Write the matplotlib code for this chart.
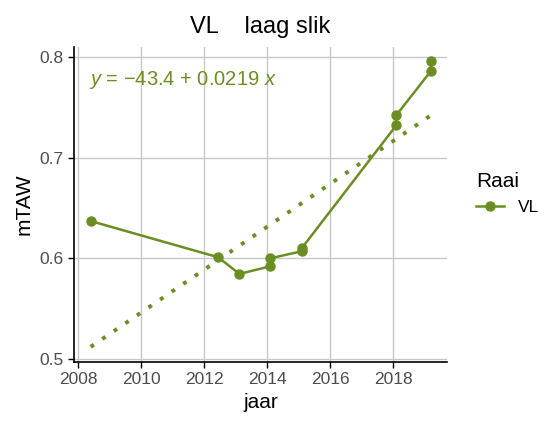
import matplotlib.pyplot as plt
from matplotlib.lines import Line2D

plt.rcParams['font.family'] = ['Liberation Sans', 'DejaVu Sans']
plt.rcParams['mathtext.fontset'] = 'custom'
plt.rcParams['mathtext.rm'] = 'Liberation Sans'
plt.rcParams['mathtext.it'] = 'Liberation Sans:italic'

# measured points (jaar, mTAW)
jaar = [2008.4, 2012.45, 2013.12, 2014.1, 2014.1, 2015.1, 2015.1, 2018.1, 2018.1, 2019.2, 2019.2]
mtaw = [0.637, 0.601, 0.5845, 0.592, 0.600, 0.607, 0.610, 0.732, 0.742, 0.786, 0.796]

# trend line as drawn
trend_x = [2008.4, 2019.2]
trend_y = [0.512, 0.742]

xticks = [2008, 2010, 2012, 2014, 2016, 2018]
yticks = [0.5, 0.6, 0.7, 0.8]

green = '#6b8e23'
grey = '#4d4d4d'

fig = plt.figure(figsize=(5.55, 4.23), dpi=100)
ax = fig.add_axes([0.1333, 0.1442, 0.672, 0.745])

ax.plot(trend_x, trend_y, color=green, linewidth=2.8, linestyle=(0, (1, 2.6)),
        dash_capstyle='butt', zorder=2)
ax.plot(jaar, mtaw, color=green, linewidth=1.8, marker='o', markersize=6.5, zorder=3)

ax.text(2008.35, 0.772, r'$y$ = $-$43.4 + 0.0219 $x$', color=green, fontsize=14.5)

ax.set_xlim(2007.87, 2019.71)
ax.set_ylim(0.497, 0.81)
ax.set_xticks(xticks)
ax.set_yticks(yticks)
ax.set_yticklabels(['0.5', '0.6', '0.7', '0.8'])
ax.grid(True, color='#c8c8c8', linewidth=1.0)
ax.set_axisbelow(True)
for s in ['top', 'right']:
    ax.spines[s].set_visible(False)
for s in ['left', 'bottom']:
    ax.spines[s].set_linewidth(1.2)
ax.tick_params(colors='black', labelcolor=grey, labelsize=12.5, length=4, width=1)

ax.set_xlabel('jaar', fontsize=15)
ax.set_ylabel('mTAW', fontsize=15)
ax.set_title('VL    laag slik', fontsize=17, pad=10)

handle = Line2D([], [], color=green, linewidth=1.8, marker='o', markersize=6.5)
fig.legend([handle], ['VL'], title='Raai', loc='upper left',
           bbox_to_anchor=(0.83, 0.63), frameon=False, fontsize=12.5,
           title_fontsize=15, handlelength=1.6, alignment='left')

fig.savefig('out.png', dpi=100)
